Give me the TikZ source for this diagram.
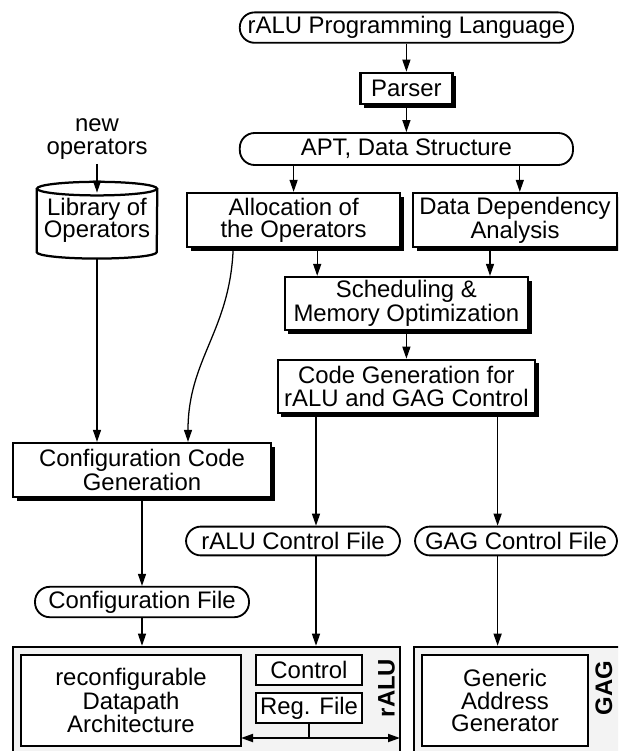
\documentclass[tikz,border=0pt]{standalone}
\usepackage{fontspec}
\setmainfont{Liberation Sans}
\usetikzlibrary{arrows.meta,positioning,shadows}
\definecolor{unitgray}{RGB}{243,243,243}

\begin{document}
\begin{tikzpicture}[
  font=\fontsize{17}{15.8}\selectfont,
  >=Triangle,
  block/.style={draw,line width=1.6pt,fill=white,minimum height=1.33cm,
    align=center,inner sep=2pt,
    drop shadow={shadow xshift=0.09cm,shadow yshift=-0.09cm,fill=black,opacity=1}},
  pill/.style={draw,line width=1.3pt,rounded corners=0.37cm,fill=white,
    minimum height=0.76cm,inner sep=1pt},
  unit/.style={draw,line width=1.8pt,fill=unitgray},
  part/.style={draw,line width=0.9pt,fill=white,align=center,inner sep=1pt},
  arrow/.style={-{Triangle[length=0.3cm,width=0.2cm]},line width=0.9pt},
  bus/.style={{Triangle[length=0.3cm,width=0.2cm]}-{Triangle[length=0.3cm,width=0.2cm]},line width=1.3pt},
  tag/.style={font=\fontsize{17}{15.8}\selectfont\bfseries,rotate=90,inner sep=0pt}
]
  \useasboundingbox (0,0) rectangle (15.45,-18.775);
  \clip (0,0) rectangle (15.45,-18.775);

  % compiler flow
  \node[pill,minimum width=8.33cm] (lang) at (10.16,-0.69) {rALU Programming Language};
  \node[block,minimum width=2.3cm,minimum height=0.78cm] (parser) at (10.16,-2.21) {Parser};
  \node[pill,minimum width=8.33cm,minimum height=0.8cm] (apt) at (10.16,-3.725) {APT, Data Structure};
  \node[block,minimum width=5.33cm,minimum height=1.35cm] (alloc) at (7.34,-5.5)
    {Allocation of\\the Operators};
  \node[block,minimum width=5.1cm,minimum height=1.35cm] (ddep) at (12.875,-5.5)
    {Data Dependency\\Analysis};
  \node[block,minimum width=6.08cm] (sched) at (10.16,-7.59)
    {Scheduling \&\\Memory Optimization};
  \node[block,minimum width=6.43cm] (codegen) at (10.16,-9.66)
    {Code Generation for\\rALU and GAG Control};

  % operator library
  \node[align=center] (newops) at (2.425,-3.475) {new\\operators};
  \node[minimum width=3cm,minimum height=1.575cm,align=center] (lib) at (2.425,-5.51)
    {Library of\\Operators};
  \draw[line width=1.6pt] (lib.north west) -- (lib.south west)
    arc[start angle=180,end angle=360,x radius=1.5cm,y radius=0.16cm] -- (lib.north east);
  \draw[line width=1.6pt] (lib.north) ellipse[x radius=1.5cm,y radius=0.17cm];
  \node[block,minimum width=6.45cm,minimum height=1.35cm] (confcode) at (3.55,-11.75)
    {Configuration Code\\Generation};

  % output files
  \node[pill,minimum width=5.35cm,minimum height=0.72cm] (ralufile) at (7.325,-13.525) {rALU Control File};
  \node[pill,minimum width=5.05cm,minimum height=0.72cm] (gagfile) at (12.9,-13.525) {GAG Control File};
  \node[pill,minimum width=5.35cm] (conffile) at (3.55,-15.05) {Configuration File};

  % hardware units
  \node[unit,minimum width=9.675cm,minimum height=2.725cm] (ralu) at (5.1625,-17.5375) {};
  \node[unit,minimum width=5.3cm,minimum height=2.725cm] (gag) at (13.0,-17.5375) {};
  \node[part,minimum width=5.5cm,minimum height=2.275cm] (recon) at (3.275,-17.5125)
    {reconfigurable\\Datapath\\Architecture};
  \node[part,minimum width=2.65cm,minimum height=0.75cm] (ctrl) at (7.725,-16.75) {Control};
  \node[part,minimum width=2.65cm,minimum height=0.75cm] (regfile) at (7.725,-17.7) {Reg. File};
  \node[part,minimum width=4.15cm,minimum height=2.275cm] (gen) at (12.625,-17.5125)
    {Generic\\Address\\Generator};
  \node[tag] (ralutag) at (9.66,-17.2) {rALU};
  \node[tag] (gagtag) at (15.1,-17.2) {GAG};
  \coordinate (busl) at (6.025,-18.45);
  \coordinate (busr) at (10.0,-18.45);
  \draw[bus] (busl) -- (busr);
  \draw[line width=1.3pt] (regfile.south) -- (regfile.south |- busl);

  \draw[arrow] (lang) -- (parser);
  \draw[arrow] (parser) -- (apt);
  \draw[arrow] (alloc.north |- apt.south) -- (alloc.north);
  \draw[arrow] ([xshift=0.12cm]ddep.north |- apt.south) -- ([xshift=0.12cm]ddep.north);
  \draw[arrow] ([xshift=0.59cm]alloc.south) -- ([xshift=0.59cm]alloc.south |- sched.north);
  \draw[arrow] ([xshift=-0.625cm]ddep.south) -- ([xshift=-0.625cm]ddep.south |- sched.north);
  \draw[arrow] (sched) -- (codegen);
  \draw[arrow] (newops) -- ([yshift=-0.1cm]lib.north);
  \draw[arrow] ([yshift=-0.16cm]lib.south) -- (lib.south |- confcode.north);
  \draw[arrow] ([xshift=-1.51cm]alloc.south) .. controls +(-0.08,-2.08) and +(0,2.08)
    .. ([xshift=1.15cm]confcode.north);
  \draw[arrow] (confcode) -- (conffile);
  \draw[arrow] (conffile.south) -- (conffile.south |- ralu.north);
  \draw[arrow] ([xshift=-2.26cm]codegen.south) -- ([xshift=-2.26cm]codegen.south |- ralufile.north);
  \draw[arrow] ([xshift=2.28cm]codegen.south) -- ([xshift=2.28cm]codegen.south |- gagfile.north);
  \draw[arrow] ([xshift=-2.26cm]codegen.south |- ralufile.south) -- ([xshift=-2.26cm]codegen.south |- ralu.north);
  \draw[arrow] ([xshift=2.28cm]codegen.south |- gagfile.south) -- ([xshift=2.28cm]codegen.south |- gag.north);
\end{tikzpicture}
\end{document}
